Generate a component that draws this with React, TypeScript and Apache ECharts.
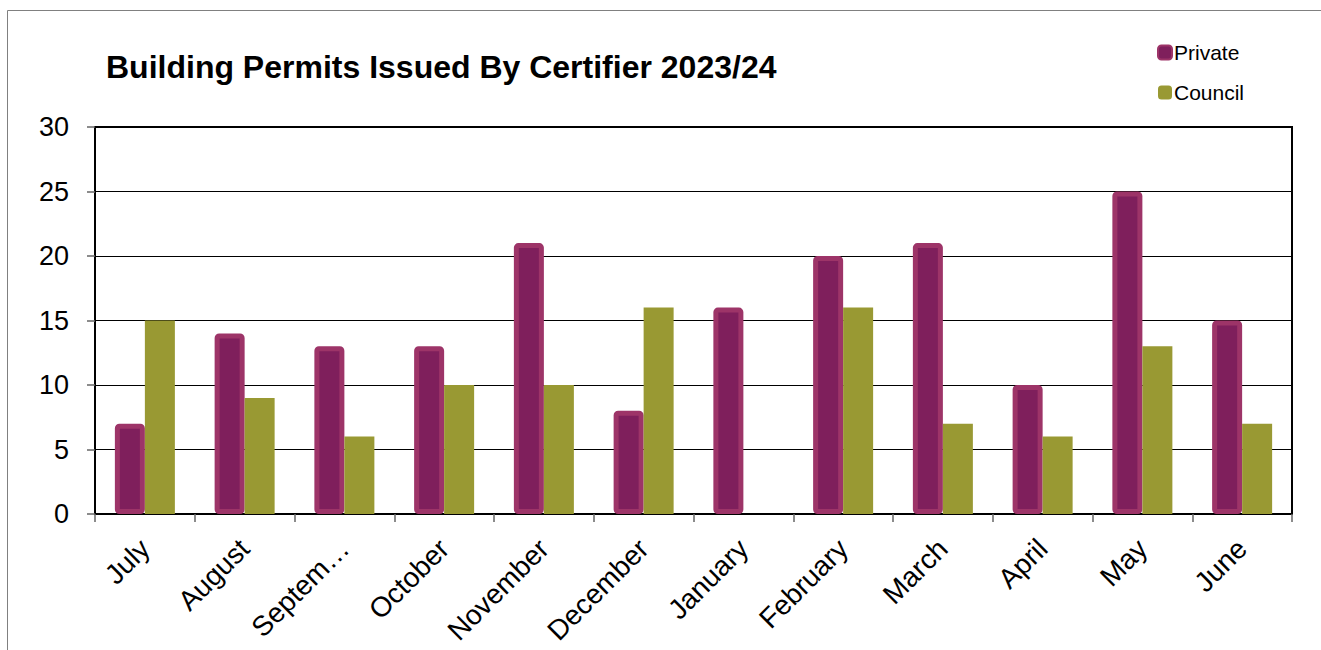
import React, { useEffect, useRef } from "react";
import * as echarts from "echarts";

const months = ["July", "August", "September", "October", "November", "December", "January", "February", "March", "April", "May", "June"];
const privateValues = [7, 14, 13, 13, 21, 8, 16, 20, 21, 10, 25, 15];
const councilValues = [15, 9, 6, 10, 10, 16, 0, 16, 7, 6, 13, 7];
const yTicks = { min: 0, max: 30, interval: 5 };
const titleText = "Building Permits Issued By Certifier 2023/24";

export default function App() {
  const ref = useRef<HTMLDivElement>(null);
  useEffect(() => {
    if (!ref.current) return;
    const chart = echarts.init(ref.current, null, { renderer: "svg" });
    const font = "'Liberation Sans', Arial, sans-serif";
    chart.setOption({
      animation: false,
      backgroundColor: "#ffffff",
      textStyle: { fontFamily: font, color: "#000" },
      title: {
        text: titleText,
        left: 101,
        top: 46,
        textStyle: { fontFamily: font, fontSize: 32, fontWeight: "bold", color: "#000" },
      },
      legend: {
        orient: "vertical",
        left: 1152,
        top: 37,
        itemWidth: 14,
        itemHeight: 14,
        itemGap: 19,
        textStyle: { fontFamily: font, fontSize: 21, color: "#000", padding: [0, 0, 0, -3] },
        data: ["Private", "Council"],
      },
      graphic: [
        {
          type: "rect",
          shape: { x: 7.5, y: 10.5, width: 1400, height: 700 },
          style: { fill: "none", stroke: "#808080", lineWidth: 1 },
          silent: true,
        },
      ],
      grid: {
        left: 95,
        top: 127,
        right: 29,
        bottom: 136,
        show: true,
        borderColor: "#000",
        borderWidth: 2,
        backgroundColor: "transparent",
      },
      xAxis: {
        type: "category",
        data: months,
        axisLine: { lineStyle: { color: "#000", width: 2 } },
        axisTick: { show: true, length: 8, lineStyle: { color: "#666", width: 1.5 } },
        axisLabel: {
          rotate: 45,
          fontSize: 28,
          fontFamily: font,
          color: "#000",
          margin: 30,
          interval: 0,
          formatter: (v: string) => (v.length > 8 ? v.slice(0, 6) + "…" : v),
        },
      },
      yAxis: {
        type: "value",
        min: yTicks.min,
        max: yTicks.max,
        interval: yTicks.interval,
        axisLine: { show: true, lineStyle: { color: "#000", width: 2 } },
        axisTick: { show: true, length: 8, lineStyle: { color: "#666", width: 1.5 } },
        axisLabel: { fontSize: 27, fontFamily: font, color: "#000", margin: 26 },
        splitLine: { lineStyle: { color: "#000", width: 1 } },
      },
      series: [
        {
          name: "Private",
          type: "bar",
          data: privateValues,
          barWidth: 30,
          barGap: "0%",
          itemStyle: { color: "#7f1f5c", borderColor: "#9d3468", borderWidth: 5, borderRadius: 2 },
        },
        {
          name: "Council",
          type: "bar",
          data: councilValues,
          barWidth: 30,
          barGap: "0%",
          itemStyle: { color: "#999933" },
        },
      ],
    });
    return () => chart.dispose();
  }, []);
  return (
    <div
      ref={ref}
      style={{ position: "fixed", left: 0, top: 0, width: 1321, height: 650 }}
    />
  );
}
